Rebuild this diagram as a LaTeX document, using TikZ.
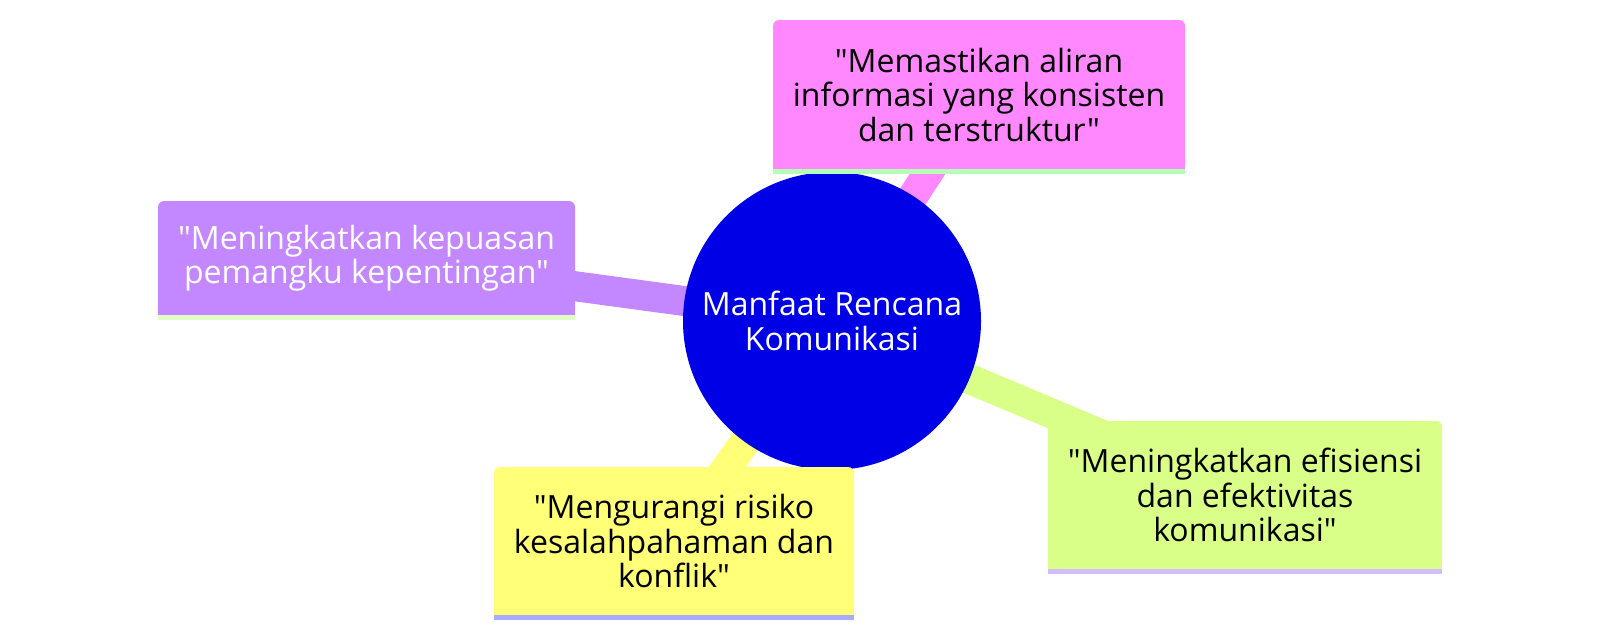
\documentclass[tikz,border=0pt]{standalone}
\usepackage{fontspec}
\setmainfont{Open Sans}[Ligatures={TeXOff,NoCommon}]
\pgfdeclarelayer{bg}
\pgfsetlayers{bg,main}
\definecolor{rootc}{RGB}{0,0,230}
\definecolor{pinkc}{RGB}{255,136,255}
\definecolor{purpc}{RGB}{195,136,255}
\definecolor{yellc}{RGB}{255,255,120}
\definecolor{grnc}{RGB}{217,255,136}
\definecolor{pinkst}{RGB}{182,255,182}
\definecolor{purpst}{RGB}{224,255,196}
\definecolor{yellst}{RGB}{170,170,255}
\definecolor{grnst}{RGB}{210,190,255}
\tikzset{
  txt/.style={font=\fontsize{32}{34.5}\selectfont},
  box/.style={rectangle, rounded corners=6pt, inner sep=0pt, align=center, txt},
  link/.style={line width=30pt},
}
\begin{document}
\begin{tikzpicture}[x=1pt,y=-1pt]
\useasboundingbox (0,0) rectangle (1600,638);
\node[circle, fill=rootc, minimum size=298pt, inner sep=0pt, align=center, txt, text=white] (root) at (832,321) {Manfaat Rencana\\Komunikasi};
\node[box, fill=pinkc, minimum width=412pt, minimum height=149pt] (pink) at (979,94.5) {"Memastikan aliran\\informasi yang konsisten\\dan terstruktur"};
\node[box, fill=purpc, text=white, minimum width=417pt, minimum height=114pt] (purp) at (366.5,258) {"Meningkatkan kepuasan\\pemangku kepentingan"};
\node[box, fill=yellc, minimum width=360pt, minimum height=148pt] (yell) at (674,541) {"Mengurangi risiko\\kesalahpahaman dan\\konflik"};
\node[box, fill=grnc, minimum width=394pt, minimum height=148pt] (grn) at (1245,495) {"Meningkatkan efisiensi\\dan efektivitas\\komunikasi"};
\foreach \n/\c/\s in {pink/pinkc/pinkst, purp/purpc/purpst, yell/yellc/yellst, grn/grnc/grnst}{
  \fill[\c] (\n.south west) rectangle ([yshift=8pt]\n.south east);
  \fill[\s] (\n.south west) rectangle ([yshift=-5pt]\n.south east);
}
\begin{pgfonlayer}{bg}
\draw[link, pinkc] (root.center) -- (pink.center);
\draw[link, purpc] (root.center) -- (purp.center);
\draw[link, yellc] (root.center) -- (yell.center);
\draw[link, grnc] (root.center) -- (grn.center);
\end{pgfonlayer}
\end{tikzpicture}
\end{document}
